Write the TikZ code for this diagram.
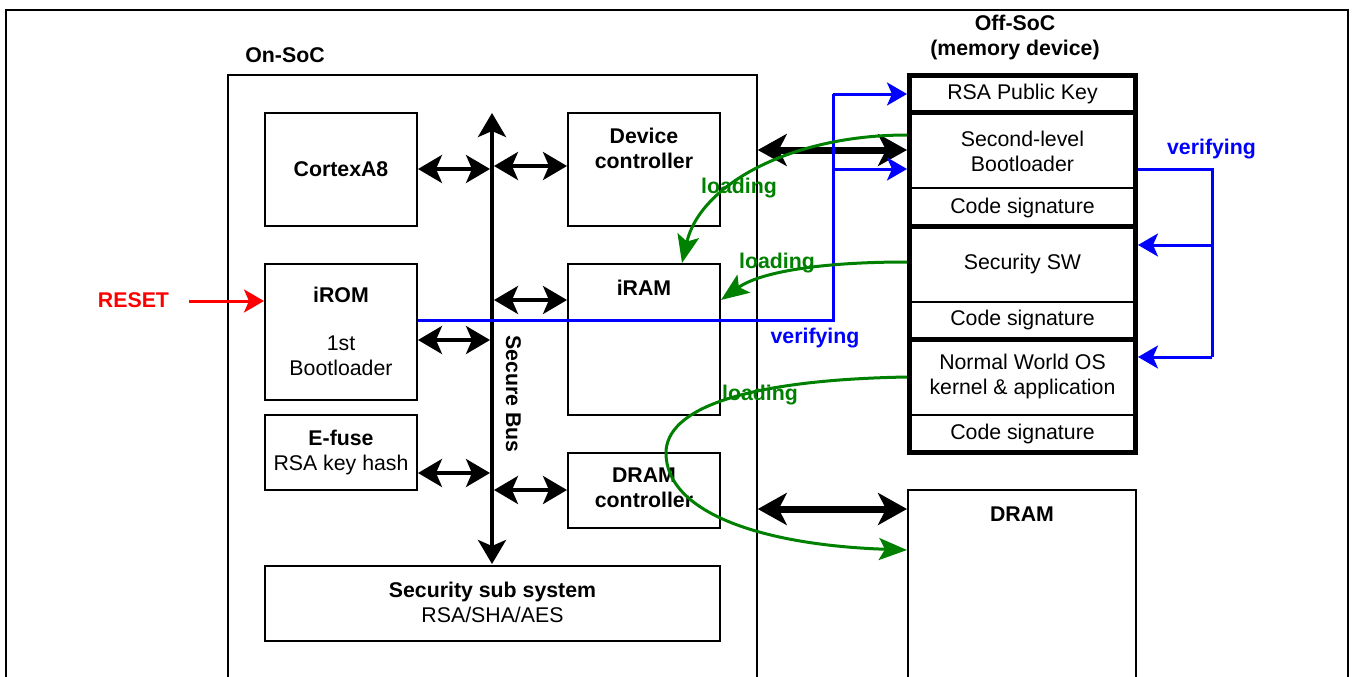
\documentclass[tikz,border=0pt]{standalone}
\usepackage{fontspec}
\setmainfont{Liberation Sans}
\usetikzlibrary{arrows.meta,fit,calc}
\definecolor{dgreen}{RGB}{0,128,0}
\definecolor{vblue}{RGB}{0,0,255}
\definecolor{vred}{RGB}{255,0,0}
\newcommand{\fsz}{\fontsize{21.3}{25}\selectfont}
\begin{document}
\begin{tikzpicture}[x=1pt,y=-1pt,
  every node/.style={font=\fsz, inner sep=0pt},
  bf/.style={font=\fsz\bfseries},
  box/.style={draw, line width=2pt, inner sep=0pt},
  rowbox/.style={inner sep=0pt},
  busarrow/.style={line width=3.5pt, {Stealth[length=24pt,width=28pt,inset=6pt]}-{Stealth[length=24pt,width=28pt,inset=6pt]}},
  bigarrow/.style={line width=7pt, {Stealth[length=29pt,width=32pt,inset=8pt]}-{Stealth[length=29pt,width=32pt,inset=8pt]}},
  busline/.style={line width=4pt, {Stealth[length=24pt,width=28pt,inset=6pt]}-{Stealth[length=24pt,width=28pt,inset=6pt]}},
  blueline/.style={draw=vblue, line width=3pt},
  bluearrow/.style={draw=vblue, fill=vblue, line width=3pt, -{Stealth[length=20pt,width=23pt,inset=5pt]}},
  greenarrow/.style={draw=dgreen, line width=3pt, -{Stealth[length=28pt,width=22pt,inset=6pt]}},
  redarrow/.style={draw=vred, line width=3pt, -{Stealth[length=20pt,width=23pt,inset=5pt]}},
  thinsep/.style={line width=2pt},
  thicksep/.style={line width=5pt},
]
\useasboundingbox (0,0) rectangle (1355,677);
\clip (0,0) rectangle (1355,677);

% frames
\node[draw, line width=2pt, fit={(6,10) (1348,730)}] (frame) {};
\node[draw, line width=1.5pt, fit={(228,75) (757,730)}] (soc) {};
\node[bf] (soclbl) at (285,55) {On-SoC};
\node[bf, align=center] (offlbl) at (1015,37) {Off-SoC\\(memory device)};

% on-SoC blocks
\node[box, fit={(265,113) (417,226)}] (cpu) {};
\node[bf] (cput) at (341,169.5) {CortexA8};
\node[box, fit={(265,264) (417,400)}] (irom) {};
\node[bf] (iromt) at (341,295) {iROM};
\node[align=center] (iromb) at (341,356) {1st\\Bootloader};
\node[box, fit={(265,415) (417,490)}] (efuse) {};
\node[align=center] (efuset) at (341,452) {\textbf{E-fuse}\\RSA key hash};
\node[box, fit={(265,566) (720,641)}] (sec) {};
\node[align=center] (sect) at (492.5,602) {\textbf{Security sub system}\\RSA/SHA/AES};
\node[box, fit={(568,113) (720,226)}] (dev) {};
\node[bf, align=center] (devt) at (644,148) {Device\\controller};
\node[box, fit={(568,264) (720,415)}] (iram) {};
\node[bf] (iramt) at (644,288) {iRAM};
\node[box, fit={(568,453) (720,528)}] (dramc) {};
\node[bf, align=center] (dramct) at (644,488) {DRAM\\controller};

% secure bus
\coordinate (busT) at (492,113);
\coordinate (busB) at (492,564);
\coordinate (busL) at (490,0);
\coordinate (busR) at (494,0);
\draw[busline] (busT) -- (busB);
\node[bf, rotate=-90] (sbus) at (513.5,394) {Secure Bus};

\coordinate (yA) at (0,169);
\coordinate (yB) at (0,166);
\coordinate (yC) at (0,340);
\coordinate (yD) at (0,300);
\coordinate (yE) at (0,473);
\coordinate (yF) at (0,490);
\draw[busarrow] (cpu.east |- yA) -- (busL |- yA);
\draw[busarrow] (busR |- yB) -- (dev.west |- yB);
\draw[busarrow] (irom.east |- yC) -- (busL |- yC);
\draw[busarrow] (busR |- yD) -- (iram.west |- yD);
\draw[busarrow] (efuse.east |- yE) -- (busL |- yE);
\draw[busarrow] (busR |- yF) -- (dramc.west |- yF);

% reset
\node[bf, text=vred] (reset) at (133.5,300) {RESET};
\coordinate (rs) at (189,301);
\draw[redarrow] (rs) -- (irom.west |- rs);

% memory device rows
\node[rowbox] (rsa) at (1022.5,94) {RSA Public Key};
\node[rowbox, align=center] (sbl) at (1022.5,151) {Second-level\\Bootloader};
\node[rowbox] (cs1) at (1022.5,207.5) {Code signature};
\node[rowbox] (ssw) at (1022.5,264) {Security SW};
\node[rowbox] (cs2) at (1022.5,320) {Code signature};
\node[rowbox, align=center] (nw) at (1022.5,376) {Normal World OS\\kernel \& application};
\node[rowbox] (cs3) at (1022.5,434) {Code signature};
\coordinate (mL) at (909.5,0);
\coordinate (mR) at (1135.5,0);
\coordinate (s1) at (0,112.5);
\coordinate (s2) at (0,188.3);
\coordinate (s3) at (0,226);
\coordinate (s4) at (0,301.7);
\coordinate (s5) at (0,339.5);
\coordinate (s6) at (0,415);
\draw[thinsep] (mL |- s2) -- (mR |- s2);
\draw[thinsep] (mL |- s4) -- (mR |- s4);
\draw[thinsep] (mL |- s6) -- (mR |- s6);
\draw[thicksep] (mL |- s1) -- (mR |- s1);
\draw[thicksep] (mL |- s3) -- (mR |- s3);
\draw[thicksep] (mL |- s5) -- (mR |- s5);
\node[draw, line width=5pt, inner sep=0pt, fit={(909.5,75.5) (1135.5,452.5)}] (mem) {};

% DRAM
\node[box, fit={(908,490) (1136,730)}] (dram) {};
\node[bf] (dramt) at (1022,514) {DRAM};

% big arrows
\coordinate (yG) at (0,150);
\coordinate (yH) at (0,509);
\draw[bigarrow] (soc.east |- yG) -- (mem.west |- yG);
\draw[bigarrow] (soc.east |- yH) -- (dram.west |- yH);

% verifying (left)
\coordinate (yV) at (0,320);
\coordinate (xV) at (833,0);
\coordinate (yRsa) at (0,94);
\coordinate (yV2) at (0,169);
\draw[blueline] (irom.east |- yV) -| (xV |- yRsa);
\draw[bluearrow] (xV |- yRsa) -- (mem.west |- yRsa);
\draw[bluearrow] (xV |- yV2) -- (mem.west |- yV2);
\node[bf, text=vblue] (ver1) at (815,338) {verifying};

% verifying (right)
\coordinate (xW) at (1212,0);
\coordinate (yW1) at (0,169);
\coordinate (yW2) at (0,245);
\coordinate (yW3) at (0,357);
\draw[blueline] (mem.east |- yW1) -| (xW |- yW3);
\draw[bluearrow] (xW |- yW3) -- (mem.east |- yW3);
\draw[bluearrow] (xW |- yW2) -- (mem.east |- yW2);
\node[bf, text=vblue] (ver2) at (1211.5,149) {verifying};

% loading curves
\coordinate (g1s) at (907,135);
\coordinate (g1e) at (682,0);
\draw[greenarrow] (g1s) .. controls (790,135) and (700,185) .. (g1e |- iram.north);
\node[bf, text=dgreen] (ld1) at (739,188) {loading};

\coordinate (g2s) at (907,262);
\coordinate (g2e) at (0,300);
\draw[greenarrow] (g2s) .. controls (820,262) and (760,272) .. (iram.east |- g2e);
\node[bf, text=dgreen] (ld2) at (777,263) {loading};

\coordinate (g3s) at (907,377);
\coordinate (g3m) at (666,453);
\coordinate (g3e) at (0,550);
\draw[greenarrow] (g3s) .. controls (740,380) and (666,410) .. (g3m)
   .. controls (666,512) and (760,545) .. (dram.west |- g3e);
\node[bf, text=dgreen] (ld3) at (760,395) {loading};
\end{tikzpicture}
\end{document}
